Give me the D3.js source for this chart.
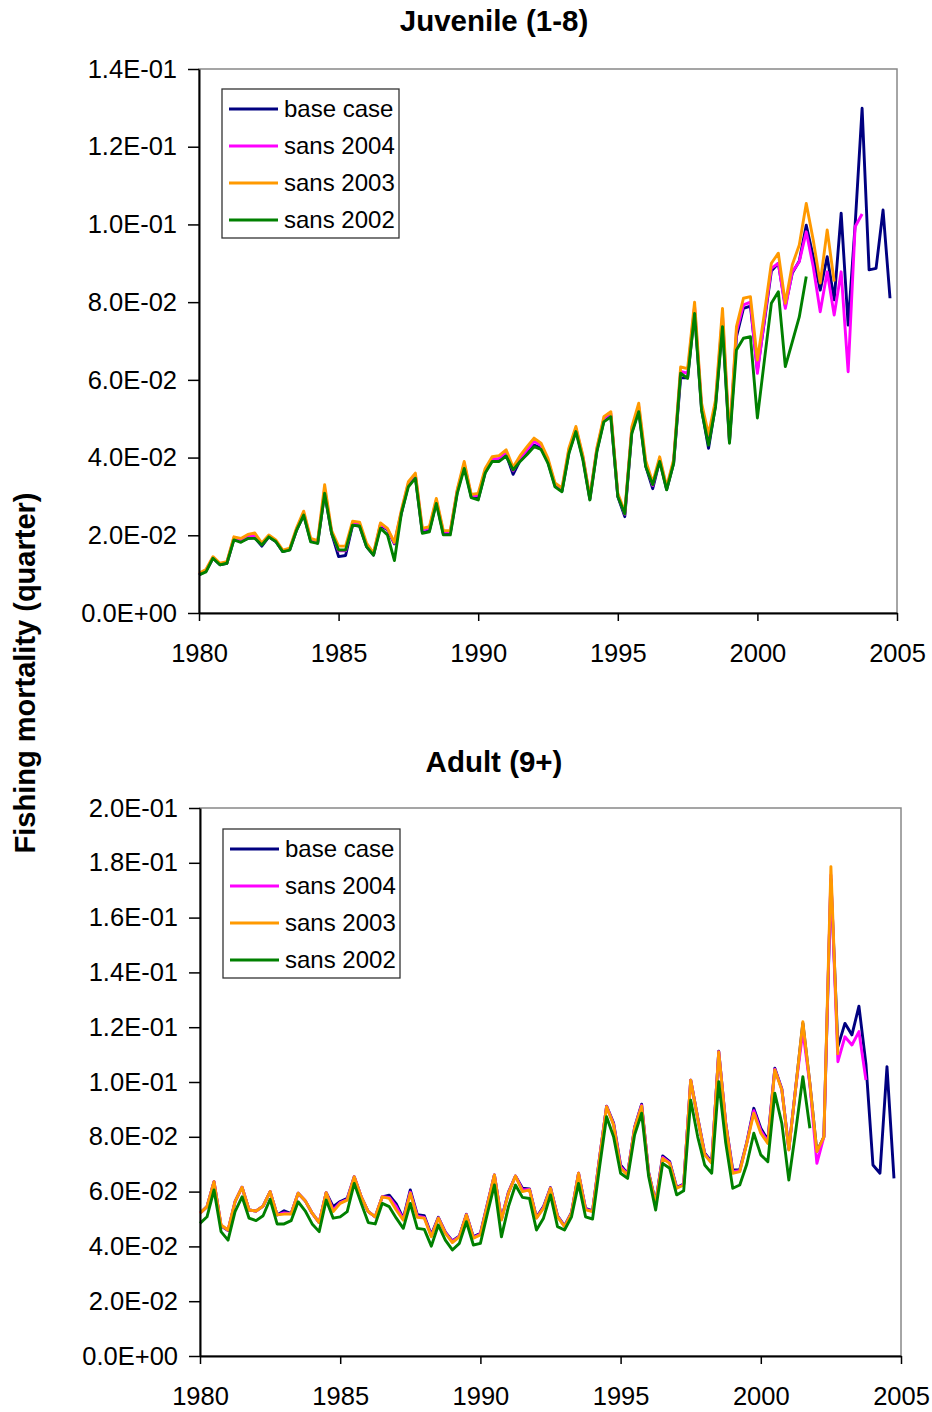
<!DOCTYPE html>
<html>
<head>
<meta charset="utf-8">
<script src="https://cdn.jsdelivr.net/npm/d3@7"></script>
<style>
  body { margin: 0; background: #fff; }
  svg { display: block; font-family: "Liberation Sans", Arial, sans-serif; }
</style>
</head>
<body>
<div id="chart"></div>
<script>
// quarterly values, first point = 1980 Q1, step 0.25 year
var startYear = 1980;

var seriesNames = ["base case", "sans 2004", "sans 2003", "sans 2002"];
var seriesColors = ["#000080", "#ff00ff", "#ff9900", "#008000"];

var xTicks = [1980, 1985, 1990, 1995, 2000, 2005];
var juvYTicks = [0, 0.02, 0.04, 0.06, 0.08, 0.10, 0.12, 0.14];
var adultYTicks = [0, 0.02, 0.04, 0.06, 0.08, 0.10, 0.12, 0.14, 0.16, 0.18, 0.20];

// Juvenile (1-8)
var juvBase = [
  0.0098, 0.0108, 0.0141, 0.0124,  0.0128, 0.0190, 0.0184, 0.0192,
  0.0194, 0.0172, 0.0196, 0.0184,  0.0158, 0.0163, 0.0214, 0.0252,
  0.0186, 0.0180, 0.0308, 0.0205,  0.0145, 0.0148, 0.0226, 0.0224,
  0.0171, 0.0149, 0.0226, 0.0214,  0.0178, 0.0257, 0.0330, 0.0350,
  0.0207, 0.0212, 0.0285, 0.0205,  0.0205, 0.0312, 0.0378, 0.0300,
  0.0293, 0.0362, 0.0392, 0.0392,  0.0408, 0.0357, 0.0392, 0.0412,
  0.0432, 0.0425, 0.0388, 0.0328,  0.0314, 0.0414, 0.0470, 0.0398,
  0.0293, 0.0418, 0.0495, 0.0508,  0.0300, 0.0248, 0.0465, 0.0522,
  0.0378, 0.0320, 0.0392, 0.0318,  0.0386, 0.0605, 0.0605, 0.0775,
  0.0525, 0.0424, 0.0535, 0.0745,  0.0440, 0.0711, 0.0784, 0.0790,
  0.0625, 0.0750, 0.0880, 0.0900,  0.0790, 0.0875, 0.0906, 0.0998,
  0.0917, 0.0831, 0.0917, 0.0806,  0.1029, 0.0741, 0.0998, 0.1299,
  0.0883, 0.0887, 0.1037, 0.0810
];
var juvSans2004 = [
  0.0100, 0.0110, 0.0143, 0.0126,  0.0130, 0.0193, 0.0188, 0.0198,
  0.0200, 0.0176, 0.0198, 0.0186,  0.0160, 0.0165, 0.0217, 0.0257,
  0.0189, 0.0183, 0.0318, 0.0208,  0.0160, 0.0160, 0.0231, 0.0229,
  0.0175, 0.0151, 0.0229, 0.0216,  0.0180, 0.0261, 0.0334, 0.0355,
  0.0214, 0.0218, 0.0290, 0.0208,  0.0209, 0.0315, 0.0384, 0.0302,
  0.0302, 0.0367, 0.0397, 0.0398,  0.0414, 0.0366, 0.0398, 0.0420,
  0.0442, 0.0431, 0.0393, 0.0331,  0.0318, 0.0420, 0.0475, 0.0402,
  0.0296, 0.0422, 0.0500, 0.0513,  0.0304, 0.0254, 0.0472, 0.0531,
  0.0385, 0.0328, 0.0397, 0.0322,  0.0390, 0.0622, 0.0617, 0.0788,
  0.0532, 0.0440, 0.0541, 0.0765,  0.0445, 0.0724, 0.0793, 0.0800,
  0.0617, 0.0755, 0.0887, 0.0900,  0.0784, 0.0878, 0.0904, 0.0981,
  0.0891, 0.0775, 0.0878, 0.0767,  0.0878, 0.0621, 0.0994, 0.1027
];
var juvSans2003 = [
  0.0102, 0.0112, 0.0145, 0.0128,  0.0132, 0.0196, 0.0192, 0.0202,
  0.0206, 0.0180, 0.0201, 0.0188,  0.0162, 0.0167, 0.0220, 0.0262,
  0.0192, 0.0186, 0.0330, 0.0212,  0.0172, 0.0172, 0.0236, 0.0234,
  0.0180, 0.0154, 0.0232, 0.0218,  0.0182, 0.0265, 0.0338, 0.0360,
  0.0218, 0.0222, 0.0295, 0.0212,  0.0212, 0.0318, 0.0390, 0.0305,
  0.0308, 0.0372, 0.0402, 0.0405,  0.0420, 0.0375, 0.0405, 0.0428,
  0.0450, 0.0437, 0.0398, 0.0335,  0.0322, 0.0425, 0.0480, 0.0405,
  0.0298, 0.0425, 0.0505, 0.0518,  0.0308, 0.0260, 0.0478, 0.0540,
  0.0392, 0.0336, 0.0402, 0.0325,  0.0395, 0.0633, 0.0629, 0.0800,
  0.0540, 0.0460, 0.0548, 0.0784,  0.0450, 0.0737, 0.0810, 0.0814,
  0.0651, 0.0771, 0.0900, 0.0926,  0.0797, 0.0896, 0.0947, 0.1054,
  0.0960, 0.0849, 0.0986, 0.0853
];
var juvSans2002 = [
  0.0098, 0.0106, 0.0141, 0.0124,  0.0128, 0.0188, 0.0182, 0.0192,
  0.0192, 0.0175, 0.0196, 0.0184,  0.0158, 0.0162, 0.0214, 0.0252,
  0.0183, 0.0179, 0.0308, 0.0205,  0.0162, 0.0162, 0.0226, 0.0224,
  0.0171, 0.0149, 0.0218, 0.0201,  0.0135, 0.0257, 0.0325, 0.0347,
  0.0205, 0.0209, 0.0282, 0.0201,  0.0201, 0.0308, 0.0372, 0.0297,
  0.0291, 0.0360, 0.0390, 0.0390,  0.0404, 0.0368, 0.0390, 0.0408,
  0.0428, 0.0421, 0.0385, 0.0325,  0.0312, 0.0411, 0.0467, 0.0394,
  0.0291, 0.0415, 0.0492, 0.0505,  0.0300, 0.0255, 0.0462, 0.0518,
  0.0377, 0.0330, 0.0390, 0.0317,  0.0385, 0.0617, 0.0604, 0.0771,
  0.0522, 0.0432, 0.0531, 0.0737,  0.0437, 0.0677, 0.0707, 0.0711,
  0.0502, 0.0650, 0.0797, 0.0827,  0.0634, 0.0698, 0.0762, 0.0866
];

// Adult (9+)
var adultBase = [
  0.0521, 0.0545, 0.0636, 0.0475,  0.0458, 0.0563, 0.0616, 0.0533,
  0.0529, 0.0547, 0.0600, 0.0515,  0.0530, 0.0520, 0.0594, 0.0567,
  0.0521, 0.0487, 0.0596, 0.0545,  0.0564, 0.0575, 0.0654, 0.0581,
  0.0527, 0.0508, 0.0581, 0.0587,  0.0555, 0.0502, 0.0606, 0.0516,
  0.0512, 0.0442, 0.0506, 0.0452,  0.0420, 0.0438, 0.0517, 0.0435,
  0.0448, 0.0555, 0.0661, 0.0500,  0.0598, 0.0657, 0.0612, 0.0610,
  0.0506, 0.0545, 0.0615, 0.0512,  0.0475, 0.0524, 0.0667, 0.0539,
  0.0530, 0.0725, 0.0912, 0.0850,  0.0697, 0.0665, 0.0835, 0.0919,
  0.0670, 0.0560, 0.0730, 0.0709,  0.0615, 0.0628, 0.1007, 0.0870,
  0.0740, 0.0708, 0.1112, 0.0850,  0.0679, 0.0680, 0.0780, 0.0904,
  0.0831, 0.0788, 0.1050, 0.0975,  0.0755, 0.0985, 0.1215, 0.0995,
  0.0746, 0.0800, 0.1740, 0.1129,  0.1214, 0.1172, 0.1277, 0.1065,
  0.0697, 0.0667, 0.1056, 0.0648
];
var adultSans2004 = [
  0.0521, 0.0545, 0.0636, 0.0477,  0.0459, 0.0563, 0.0616, 0.0533,
  0.0529, 0.0547, 0.0600, 0.0515,  0.0522, 0.0519, 0.0594, 0.0567,
  0.0521, 0.0487, 0.0596, 0.0533,  0.0560, 0.0571, 0.0654, 0.0581,
  0.0527, 0.0508, 0.0581, 0.0579,  0.0545, 0.0498, 0.0598, 0.0510,
  0.0506, 0.0438, 0.0504, 0.0450,  0.0417, 0.0436, 0.0516, 0.0432,
  0.0445, 0.0553, 0.0661, 0.0498,  0.0596, 0.0657, 0.0606, 0.0608,
  0.0504, 0.0542, 0.0613, 0.0510,  0.0473, 0.0522, 0.0667, 0.0536,
  0.0528, 0.0723, 0.0911, 0.0846,  0.0691, 0.0663, 0.0833, 0.0915,
  0.0668, 0.0558, 0.0725, 0.0706,  0.0613, 0.0626, 0.1007, 0.0868,
  0.0737, 0.0705, 0.1111, 0.0847,  0.0673, 0.0676, 0.0778, 0.0895,
  0.0822, 0.0782, 0.1047, 0.0973,  0.0753, 0.0984, 0.1186, 0.0990,
  0.0703, 0.0800, 0.1755, 0.1074,  0.1165, 0.1135, 0.1184, 0.1007
];
var adultSans2003 = [
  0.0521, 0.0545, 0.0636, 0.0478,  0.0460, 0.0563, 0.0616, 0.0533,
  0.0529, 0.0547, 0.0600, 0.0515,  0.0518, 0.0518, 0.0594, 0.0567,
  0.0521, 0.0487, 0.0596, 0.0527,  0.0557, 0.0569, 0.0654, 0.0581,
  0.0527, 0.0508, 0.0581, 0.0575,  0.0533, 0.0496, 0.0594, 0.0506,
  0.0503, 0.0435, 0.0503, 0.0448,  0.0414, 0.0435, 0.0515, 0.0430,
  0.0442, 0.0551, 0.0661, 0.0496,  0.0594, 0.0657, 0.0600, 0.0606,
  0.0503, 0.0539, 0.0612, 0.0508,  0.0472, 0.0521, 0.0667, 0.0533,
  0.0527, 0.0721, 0.0910, 0.0843,  0.0685, 0.0661, 0.0831, 0.0912,
  0.0667, 0.0557, 0.0721, 0.0703,  0.0612, 0.0624, 0.1007, 0.0867,
  0.0734, 0.0703, 0.1110, 0.0845,  0.0667, 0.0673, 0.0776, 0.0886,
  0.0813, 0.0776, 0.1044, 0.0971,  0.0752, 0.0983, 0.1220, 0.0995,
  0.0746, 0.0800, 0.1786, 0.1099
];
var adultSans2002 = [
  0.0484, 0.0508, 0.0606, 0.0454,  0.0423, 0.0527, 0.0581, 0.0503,
  0.0494, 0.0512, 0.0572, 0.0482,  0.0482, 0.0494, 0.0563, 0.0530,
  0.0482, 0.0454, 0.0569, 0.0503,  0.0508, 0.0527, 0.0630, 0.0557,
  0.0487, 0.0482, 0.0557, 0.0545,  0.0503, 0.0466, 0.0557, 0.0466,
  0.0462, 0.0401, 0.0478, 0.0423,  0.0387, 0.0411, 0.0490, 0.0405,
  0.0411, 0.0520, 0.0624, 0.0435,  0.0545, 0.0624, 0.0579, 0.0575,
  0.0460, 0.0503, 0.0588, 0.0472,  0.0460, 0.0508, 0.0630, 0.0508,
  0.0500, 0.0690, 0.0873, 0.0800,  0.0667, 0.0648, 0.0807, 0.0886,
  0.0655, 0.0533, 0.0703, 0.0685,  0.0588, 0.0603, 0.0934, 0.0800,
  0.0697, 0.0667, 0.1001, 0.0777,  0.0612, 0.0624, 0.0700, 0.0813,
  0.0734, 0.0709, 0.0959, 0.0849,  0.0642, 0.0825, 0.1019, 0.0831
];

var width = 932;
var height = 1412;

var svg = d3.select('#chart')
  .append('svg')
  .attr('width', width)
  .attr('height', height);

svg.append('rect').attr('width', width).attr('height', height).attr('fill', '#fff');

// 1.4E-01 style labels
function sci(v) {
  if (Math.abs(v) < 1e-12) return "0.0E+00";
  var e = Math.floor(Math.log10(v) + 1e-9);
  var m = v / Math.pow(10, e);
  return m.toFixed(1) + "E" + (e < 0 ? "-" : "+") + String(Math.abs(e)).padStart(2, "0");
}

function drawPanel(p) {
  var x = d3.scaleLinear().domain([1980, 2005]).range([p.left, p.right]);
  var y = d3.scaleLinear().domain([0, p.yMax]).range([p.bottom, p.top]);

  // title
  svg.append('text')
    .attr('x', 494)
    .attr('y', p.titleY)
    .attr('text-anchor', 'middle')
    .style('font-size', '29.5px')
    .style('font-weight', 'bold')
    .text(p.title);

  // plot area frame (grey)
  svg.append('rect')
    .attr('x', p.left).attr('y', p.top)
    .attr('width', p.right - p.left).attr('height', p.bottom - p.top)
    .attr('fill', 'none')
    .attr('stroke', '#888')
    .attr('stroke-width', 1.5);

  var line = d3.line()
    .x((d, i) => x(startYear + i * 0.25))
    .y(d => y(d))
    .curve(d3.curveLinear);

  p.series.forEach(function(s, k) {
    svg.append('path')
      .datum(s)
      .attr('d', line)
      .attr('fill', 'none')
      .attr('stroke', seriesColors[k])
      .attr('stroke-width', 2.9)
      .attr('stroke-linejoin', 'round');
  });

  // axes
  var yAxis = d3.axisLeft(y).tickValues(p.yTicks).tickFormat(sci).tickSize(11).tickSizeOuter(0).tickPadding(11);
  var gy = svg.append('g').attr('transform', `translate(${p.left},0)`).call(yAxis);

  var xAxis = d3.axisBottom(x).tickValues(xTicks).tickFormat(d3.format('d')).tickSize(8).tickSizeOuter(0).tickPadding(23);
  var gx = svg.append('g').attr('transform', `translate(0,${p.bottom})`).call(xAxis);

  [gx, gy].forEach(function(g) {
    g.select('.domain').attr('stroke', '#000').attr('stroke-width', 2);
    g.selectAll('.tick line').attr('stroke', '#000').attr('stroke-width', 1.5);
    g.selectAll('.tick text')
      .attr('fill', '#000')
      .style('font-size', '25.5px')
      .style('font-family', '"Liberation Sans", Arial, sans-serif');
  });

  // legend
  var lg = svg.append('g').attr('transform', `translate(${p.legX},${p.legY})`);
  lg.append('rect')
    .attr('width', 177).attr('height', 149)
    .attr('fill', '#fff')
    .attr('stroke', '#333')
    .attr('stroke-width', 1.3);
  seriesNames.forEach(function(name, k) {
    var ly = 20 + k * 37;
    lg.append('line')
      .attr('x1', 7).attr('x2', 56)
      .attr('y1', ly).attr('y2', ly)
      .attr('stroke', seriesColors[k])
      .attr('stroke-width', 3);
    lg.append('text')
      .attr('x', 62).attr('y', ly)
      .attr('dy', '0.33em')
      .style('font-size', '24px')
      .text(name);
  });
}

drawPanel({
  title: 'Juvenile (1-8)', titleY: 31,
  left: 199, right: 897, top: 69, bottom: 613,
  yMax: 0.14, yTicks: juvYTicks,
  series: [juvBase, juvSans2004, juvSans2003, juvSans2002],
  legX: 222, legY: 89
});

drawPanel({
  title: 'Adult (9+)', titleY: 772,
  left: 200, right: 901, top: 808, bottom: 1356,
  yMax: 0.20, yTicks: adultYTicks,
  series: [adultBase, adultSans2004, adultSans2003, adultSans2002],
  legX: 223, legY: 829
});

// shared y axis title
svg.append('text')
  .attr('transform', 'translate(25,673) rotate(-90)')
  .attr('text-anchor', 'middle')
  .attr('dy', '0.35em')
  .style('font-size', '29px')
  .style('font-weight', 'bold')
  .text('Fishing mortality (quarter)');
</script>
</body>
</html>
